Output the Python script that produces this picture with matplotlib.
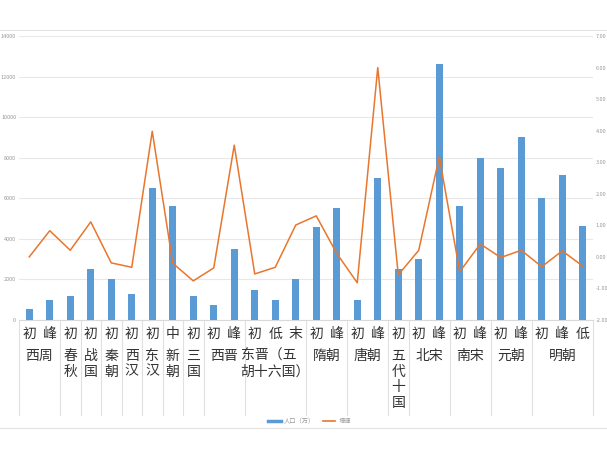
import numpy as np
import matplotlib.pyplot as plt
from matplotlib.lines import Line2D
from matplotlib.transforms import blended_transform_factory

plt.rcParams['font.family'] = ['Noto Sans CJK SC', 'DejaVu Sans']

# === 数据 ===
stage = ['初', '峰', '初', '初', '初', '初', '初', '中', '初', '初', '峰', '初', '低', '末',
         '初', '峰', '初', '峰', '初', '初', '峰', '初', '峰', '初', '峰', '初', '峰', '低']
population = [530, 1000, 1170, 2500, 2000, 1280, 6500, 5600, 1200, 750, 3500, 1500, 1000, 2000,
              4600, 5500, 1000, 7000, 2500, 3000, 12600, 5600, 8000, 7500, 9000, 6000, 7150, 4650]
growth = [0.00, 0.83, 0.21, 1.11, -0.19, -0.33, 3.98, -0.20, -0.76, -0.35, 3.54, -0.54, -0.33, 1.01,
          1.30, 0.11, -0.82, 6.00, -0.57, 0.21, 3.17, -0.47, 0.41, -0.02, 0.21, -0.31, 0.19, -0.29]
dynasty = ['西周', '春\n秋', '战\n国', '秦\n朝', '西\n汉', '东\n汉', '新\n朝', '三\n国', '西晋',
           '东晋（五\n胡十六国）', '隋朝', '唐朝', '五\n代\n十\n国', '北宋', '南宋', '元朝', '明朝']
span = [2, 1, 1, 1, 1, 1, 1, 1, 2, 3, 2, 2, 1, 2, 2, 2, 3]

W, H = 607, 451
fig = plt.figure(figsize=(W / 100, H / 100), dpi=100)
ax = fig.add_axes([19 / W, 1 - 320 / H, 574 / W, 284 / H])
ax2 = ax.twinx()

x = np.arange(len(population))
ax.bar(x, population, width=0.35, color='#5b9bd5', zorder=3)
ax2.plot(x, growth, color='#e8762d', lw=1.1, zorder=4)

ax.set_xlim(-0.5, len(x) - 0.5)
ax.set_ylim(0, 14000)
ax.set_yticks(np.arange(0, 14001, 2000))
ax2.set_ylim(-2, 7)
ax2.set_yticks(np.arange(-2, 7.01, 1))
ax2.set_yticklabels([f'{v:.2f}' for v in np.arange(-2, 7.01, 1)])
ax.grid(axis='y', color='#e8e8e8', lw=0.8, zorder=0)
ax.set_axisbelow(True)
ax.set_xticks([])

for a in (ax, ax2):
    for s in a.spines.values():
        s.set_visible(False)
    a.tick_params(axis='y', length=0, labelsize=4, labelcolor='#999999', pad=2)
ax.spines['bottom'].set_visible(True)
ax.spines['bottom'].set_color('#d9d9d9')

# === 分类标签 ===
tr = blended_transform_factory(ax.transData, fig.transFigure)
def fy(p):
    return 1 - p / H

for i, s in enumerate(stage):
    ax.text(i, fy(334), s, transform=tr, ha='center', va='center',
            fontsize=10, color='#333333', clip_on=False)

pos = -0.5
bounds = [pos]
for name, n in zip(dynasty, span):
    c = pos + n / 2
    ax.text(c, fy(349), name, transform=tr, ha='center', va='top', fontsize=10,
            color='#333333', linespacing=1.15, multialignment='left', clip_on=False)
    pos += n
    bounds.append(pos)

for b in bounds:
    ax.add_line(Line2D([b, b], [fy(320), fy(415)], transform=tr, color='#e0e0e0',
                       lw=0.8, clip_on=False))

# 外框线
fig.add_artist(Line2D([0, 1], [fy(30), fy(30)], color='#e3e3e3', lw=0.8))
fig.add_artist(Line2D([0, 1], [fy(428), fy(428)], color='#e3e3e3', lw=0.8))

handles = [Line2D([], [], color='#5b9bd5', lw=2.5), Line2D([], [], color='#e8762d', lw=1.2)]
fig.legend(handles, ['人口（万）', '增速'], loc='center', bbox_to_anchor=(0.51, fy(421)),
           ncol=2, frameon=False, fontsize=4.5, labelcolor='#999999',
           handlelength=2, columnspacing=1.2, handletextpad=0.5)

fig.savefig('out.png', dpi=100)
